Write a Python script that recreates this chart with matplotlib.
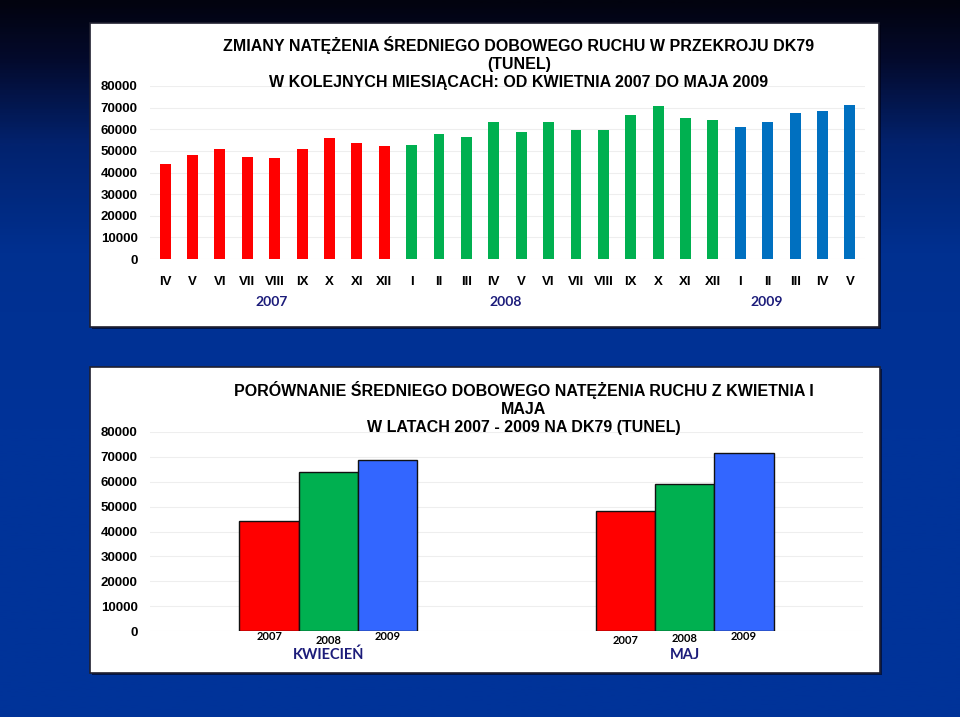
import numpy as np
import matplotlib
matplotlib.use('Agg')
import matplotlib.pyplot as plt
from matplotlib.patches import Rectangle
from matplotlib.colors import LinearSegmentedColormap
import matplotlib.transforms as mtransforms

# data ========================================================================
months = ['IV', 'V', 'VI', 'VII', 'VIII', 'IX', 'X', 'XI', 'XII',
          'I', 'II', 'III', 'IV', 'V', 'VI', 'VII', 'VIII', 'IX', 'X', 'XI', 'XII',
          'I', 'II', 'III', 'IV', 'V']
traffic_2007 = [44000, 48100, 50900, 47200, 46800, 50900, 56000, 53700, 52300]
traffic_2008 = [52800, 57900, 56500, 63400, 58800, 63400, 59700, 59700,
                66700, 70800, 65300, 64400]
traffic_2009 = [61100, 63400, 67600, 68500, 71300]
year_labels = ['2007', '2008', '2009']

groups = ['KWIECIEŃ', 'MAJ']
years = ['2007', '2008', '2009']
april_may = {'2007': [44200, 48200],
             '2008': [63900, 59000],
             '2009': [68700, 71500]}

title_top = ('ZMIANY NATĘŻENIA ŚREDNIEGO DOBOWEGO RUCHU W PRZEKROJU DK79\n'
             '(TUNEL)\nW KOLEJNYCH MIESIĄCACH: OD KWIETNIA 2007 DO MAJA 2009')
title_bot = ('PORÓWNANIE ŚREDNIEGO DOBOWEGO NATĘŻENIA RUCHU Z KWIETNIA I\n'
             'MAJA\nW LATACH 2007 - 2009 NA DK79 (TUNEL)')

# style =======================================================================
plt.rcParams['font.family'] = ['Liberation Sans', 'DejaVu Sans']
W, H = 960, 717
navy = '#1c1c7a'
top_colors = ['#ff0000'] * len(traffic_2007) + ['#00b050'] * len(traffic_2008) \
    + ['#0070c0'] * len(traffic_2009)
bot_colors = {'2007': '#ff0000', '2008': '#00b050', '2009': '#3366ff'}


def fx(px):
    return px / W


def fy(py):
    return 1 - py / H


fig = plt.figure(figsize=(9.6, 7.17), dpi=100)

# background gradient
bg = fig.add_axes([0, 0, 1, 1])
bg.set_axis_off()
cmap = LinearSegmentedColormap.from_list('bg', [
    (0.0, '#02030f'), (0.08, '#040a2c'), (0.2, '#02226e'),
    (0.35, '#003090'), (0.6, '#003399'), (1.0, '#003399')])
grad = np.linspace(0, 1, 400).reshape(-1, 1)
bg.imshow(grad, aspect='auto', cmap=cmap, extent=[0, 1, 0, 1])
bg.set_xlim(0, 1)
bg.set_ylim(0, 1)

# white panels
for (x0, y0, x1, y1) in [(90, 23, 879, 327), (90, 367, 880, 673)]:
    bg.add_patch(Rectangle((fx(x0) + 0.002, fy(y1) - 0.003), fx(x1 - x0), fy(y0) - fy(y1),
                           facecolor='#000010', edgecolor='none', alpha=0.6,
                           transform=fig.transFigure))
    bg.add_patch(Rectangle((fx(x0), fy(y1)), fx(x1 - x0), fy(y0) - fy(y1),
                           facecolor='white', edgecolor='#202030', linewidth=1.2,
                           transform=fig.transFigure))

# top chart ===================================================================
values = traffic_2007 + traffic_2008 + traffic_2009
ax1 = fig.add_axes([fx(150), fy(259), fx(865 - 150), fy(86) - fy(259)])
x = np.arange(len(values))
ax1.bar(x, values, width=0.4, color=top_colors, zorder=3)
ax1.set_xlim(-0.55, len(values) - 0.45)
ax1.set_ylim(0, 80000)
ax1.set_yticks(np.arange(0, 80001, 10000))
ax1.yaxis.grid(True, color='#eeeeee', linewidth=0.8, zorder=0)
ax1.set_xticks(x)
ax1.set_xticklabels(months)
ax1.tick_params(axis='both', length=0, labelsize=9.5)
ax1.tick_params(axis='x', pad=12)
ax1.tick_params(axis='y', pad=9)
for lab in ax1.get_xticklabels() + ax1.get_yticklabels():
    lab.set_fontweight('bold')
for s in ax1.spines.values():
    s.set_visible(False)
ax1.set_facecolor('none')
fig.text(fx(519), fy(63.5), title_top, ha='center', va='center', fontsize=11.5,
         fontweight='bold', linespacing=1.25)

# year labels under the months
year_pos = [(272, '2007'), (506, '2008'), (767, '2009')]
for px, lab in year_pos:
    fig.text(fx(px), fy(302), lab, ha='center', va='center', fontsize=10,
             fontweight='bold', color=navy, family=['Lato', 'DejaVu Sans'])

# bottom chart ================================================================
ax2 = fig.add_axes([fx(150), fy(631), fx(863 - 150), fy(432) - fy(631)])
gx = np.arange(len(groups))
bw = 0.166
for i, yr in enumerate(years):
    ax2.bar(gx + (i - 1) * bw, april_may[yr], width=bw, color=bot_colors[yr],
            edgecolor='#111111', linewidth=1.0, zorder=3)
ax2.set_xlim(-0.5, 1.5)
ax2.set_ylim(0, 80000)
ax2.set_yticks(np.arange(0, 80001, 10000))
ax2.yaxis.grid(True, color='#eeeeee', linewidth=0.8, zorder=0)
ax2.set_xticks([])
ax2.tick_params(axis='y', length=0, labelsize=9.5, pad=9)
for lab in ax2.get_yticklabels():
    lab.set_fontweight('bold')
for s in ax2.spines.values():
    s.set_visible(False)
ax2.set_facecolor('none')

trans = mtransforms.blended_transform_factory(ax2.transData, fig.transFigure)
offs = [[637, 640, 637], [640, 638, 636]]
for g in gx:
    for i, yr in enumerate(years):
        ax2.text(g + (i - 1) * bw, fy(offs[g][i]), yr, transform=trans,
                 ha='center', va='center', fontsize=8, fontweight='bold',
                 family=['Lato', 'DejaVu Sans'])
    ax2.text(g, fy(655), groups[g], transform=trans, ha='center', va='center',
             fontsize=10.5, fontweight='bold', color=navy,
             family=['Lato', 'DejaVu Sans'])

fig.text(fx(524), fy(408.5), title_bot, ha='center', va='center', fontsize=11.5,
         fontweight='bold', linespacing=1.25)

fig.savefig('out.png', dpi=100)
